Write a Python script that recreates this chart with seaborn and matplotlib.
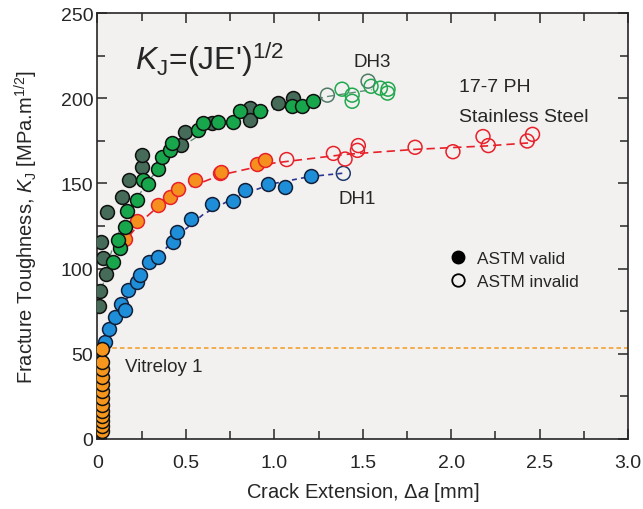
import matplotlib
matplotlib.use("Agg")
from matplotlib import pyplot as plt
from matplotlib.lines import Line2D
from matplotlib.ticker import MultipleLocator, FuncFormatter
import pandas as pd
import seaborn as sns

# Vitreloy 1 (all ASTM valid)
vit_da = [0.028, 0.028, 0.028, 0.028, 0.028, 0.028, 0.028, 0.028, 0.028, 0.028, 0.028, 0.028, 0.028]
vit_k = [4.8, 7.5, 10.5, 13.5, 16.5, 20, 24, 28, 32, 36.5, 41, 45, 53]

# DH1
dh1_da = [0.042, 0.067, 0.099, 0.131, 0.156, 0.174, 0.222, 0.24, 0.293, 0.344, 0.425, 0.451,
          0.527, 0.646, 0.768, 0.834, 0.966, 1.06, 1.21]
dh1_k = [56.9, 64.7, 71.6, 79.4, 75.5, 87.2, 92.2, 96, 103.9, 106.9, 115.7, 121.6,
         129, 138.2, 139.6, 146, 149.4, 148, 154.5]
dh1_inv_da = [1.39]
dh1_inv_k = [155.9]
dh1_fit_da = [0.03, 0.1, 0.2, 0.3, 0.45, 0.6, 0.8, 1.0, 1.2, 1.39]
dh1_fit_k = [53, 71, 88, 102, 119, 132, 143, 150, 154, 156]

# 17-7 PH stainless steel
ss_da = [0.156, 0.222, 0.344, 0.41, 0.457, 0.551, 0.693, 0.70, 0.90, 0.947]
ss_k = [117.6, 128.2, 137.6, 141.8, 146.8, 151.9, 155.9, 156.9, 161.2, 163.7]
ss_inv_da = [1.07, 1.334, 1.40, 1.475, 1.47, 1.796, 2.01, 2.18, 2.21, 2.43, 2.46]
ss_inv_k = [164, 167.6, 164.3, 172.2, 169.4, 171.2, 168.6, 177.5, 172.2, 174.9, 178.8]
ss_fit_da = [0.13, 0.25, 0.35, 0.5, 0.7, 1.0, 1.4, 1.8, 2.2, 2.47]
ss_fit_k = [113, 128, 137, 147, 155, 162, 167, 170, 172, 174]

# DH3, two specimens
dh3a_da = [0.01, 0.015, 0.05, 0.03, 0.02, 0.055, 0.14, 0.178, 0.252, 0.252, 0.472, 0.495,
           0.646, 0.862, 0.862, 1.023, 1.107]
dh3a_k = [78, 87, 97, 106, 115.5, 133, 142, 151.8, 159.4, 166.5, 172.4, 180,
          185.6, 194, 187.5, 197, 200.4]
dh3a_inv_da = [1.30, 1.53]
dh3a_inv_k = [201.8, 210]
dh3b_da = [0.088, 0.127, 0.116, 0.156, 0.167, 0.223, 0.257, 0.286, 0.342, 0.365, 0.41, 0.421,
           0.568, 0.597, 0.68, 0.766, 0.806, 0.919, 1.10, 1.155, 1.22]
dh3b_k = [104, 111.8, 116.5, 124.7, 134, 140, 151.8, 149.4, 158.2, 165.3, 169.4, 173.5,
          181.2, 185.3, 185.9, 185.9, 192.4, 192.4, 195.3, 195.3, 198.2]
dh3b_inv_da = [1.383, 1.44, 1.44, 1.547, 1.60, 1.64, 1.643]
dh3b_inv_k = [205.3, 201.8, 198.2, 207, 205.9, 203, 205.3]
dh3_fit_da = [0.0, 0.05, 0.1, 0.2, 0.3, 0.45, 0.65, 0.9, 1.1, 1.3, 1.55]
dh3_fit_k = [75, 100, 117, 138, 153, 170, 183, 191, 196, 201, 205]

vit_limit = 53.5

sns.set_style("ticks")
plt.rcParams['font.family'] = ['Liberation Sans', 'DejaVu Sans']
plt.rcParams['mathtext.fontset'] = 'custom'
plt.rcParams['mathtext.rm'] = 'Liberation Sans'
plt.rcParams['mathtext.it'] = 'Liberation Sans:italic'

fig = plt.figure(figsize=(6.43, 5.10), dpi=100)
ax = fig.add_axes([0.1516, 0.1373, 0.8251, 0.8352])
ax.set_facecolor("#f3f1f0")

ms = 100
lw_edge = 1.1

# fit lines
sns.lineplot(x=dh3_fit_da, y=dh3_fit_k, ax=ax, color="#5f8c74", lw=1.0, dashes=(5, 3), sort=False, zorder=1)
sns.lineplot(x=ss_fit_da, y=ss_fit_k, ax=ax, color="#e8202a", lw=1.2, dashes=(5, 3), sort=False, zorder=1)
sns.lineplot(x=dh1_fit_da, y=dh1_fit_k, ax=ax, color="#2a3590", lw=1.2, dashes=(3, 2.5), sort=False, zorder=1)
ax.axhline(vit_limit, color="#f39a1e", lw=1.1, ls=(0, (3, 2)), zorder=1)

# DH1
sns.scatterplot(x=dh1_da, y=dh1_k, ax=ax, s=ms, color="#1f8ed8", edgecolor="#13203a", linewidth=lw_edge, zorder=3)
sns.scatterplot(x=dh1_inv_da, y=dh1_inv_k, ax=ax, s=ms, facecolor="none", edgecolor="#1e3a6e", linewidth=lw_edge, zorder=3)
# stainless
sns.scatterplot(x=ss_da, y=ss_k, ax=ax, s=ms, color="#f5901e", edgecolor="#e8202a", linewidth=lw_edge, zorder=3)
sns.scatterplot(x=ss_inv_da, y=ss_inv_k, ax=ax, s=ms, facecolor="none", edgecolor="#e8202a", linewidth=lw_edge, zorder=3)
# DH3
sns.scatterplot(x=dh3a_da, y=dh3a_k, ax=ax, s=ms, color="#466b58", edgecolor="#111111", linewidth=lw_edge, zorder=4)
sns.scatterplot(x=dh3b_da, y=dh3b_k, ax=ax, s=ms, color="#17a64b", edgecolor="#111111", linewidth=lw_edge, zorder=4)
sns.scatterplot(x=dh3a_inv_da, y=dh3a_inv_k, ax=ax, s=ms, facecolor="none", edgecolor="#4f7b66", linewidth=lw_edge, zorder=4)
sns.scatterplot(x=dh3b_inv_da, y=dh3b_inv_k, ax=ax, s=ms, facecolor="none", edgecolor="#21a84f", linewidth=lw_edge, zorder=4)
# Vitreloy
sns.scatterplot(x=vit_da, y=vit_k, ax=ax, s=ms, color="#f7961d", edgecolor="#111111", linewidth=lw_edge, zorder=5)

ax.set_xlim(0, 3.0)
ax.set_ylim(0, 250)
ax.xaxis.set_major_locator(MultipleLocator(0.5))
ax.xaxis.set_minor_locator(MultipleLocator(0.25))
ax.yaxis.set_major_locator(MultipleLocator(50))
ax.yaxis.set_minor_locator(MultipleLocator(25))
ax.xaxis.set_major_formatter(FuncFormatter(lambda v, p: "0" if v == 0 else f"{v:.1f}"))
ax.tick_params(which="both", direction="in", top=True, right=True, width=1.1, labelsize=14)
ax.tick_params(axis="x", which="both", pad=11)
ax.tick_params(axis="y", which="both", pad=3)
ax.tick_params(which="major", length=7)
ax.tick_params(which="minor", length=6)
for s in ax.spines.values():
    s.set_linewidth(1.2)

ax.set_xlabel(r"Crack Extension, $\Delta a$ [mm]", fontsize=14.5, labelpad=6)
ax.set_ylabel(r"Fracture Toughness, $K_{\rm J}$ [MPa.m$^{1/2}$]", fontsize=14.5, labelpad=15)

ax.text(0.21, 217, r"$K_{\rm J}$=(JE')$^{1/2}$", fontsize=23, va="baseline", ha="left")
ax.text(1.553, 221.5, "DH3", fontsize=13.5, ha="center", va="center")
ax.text(2.045, 207, "17-7 PH", fontsize=14, ha="left", va="center")
ax.text(2.045, 189.4, "Stainless Steel", fontsize=14, ha="left", va="center")
ax.text(1.466, 141, "DH1", fontsize=13.5, ha="center", va="center")
ax.text(0.156, 42.4, "Vitreloy 1", fontsize=13.5, ha="left", va="center")

handles = [
    Line2D([], [], marker="o", ls="none", markersize=9, markerfacecolor="black", markeredgecolor="black"),
    Line2D([], [], marker="o", ls="none", markersize=9, markerfacecolor="none", markeredgecolor="black", markeredgewidth=1.3),
]
ax.legend(handles, ["ASTM valid", "ASTM invalid"], loc="upper left", bbox_to_anchor=(0.663, 0.441),
          frameon=False, fontsize=12.4, handlelength=1.0, handletextpad=0.6, labelspacing=0.45,
          borderpad=0, borderaxespad=0)

plt.savefig("out.png", dpi=100)
